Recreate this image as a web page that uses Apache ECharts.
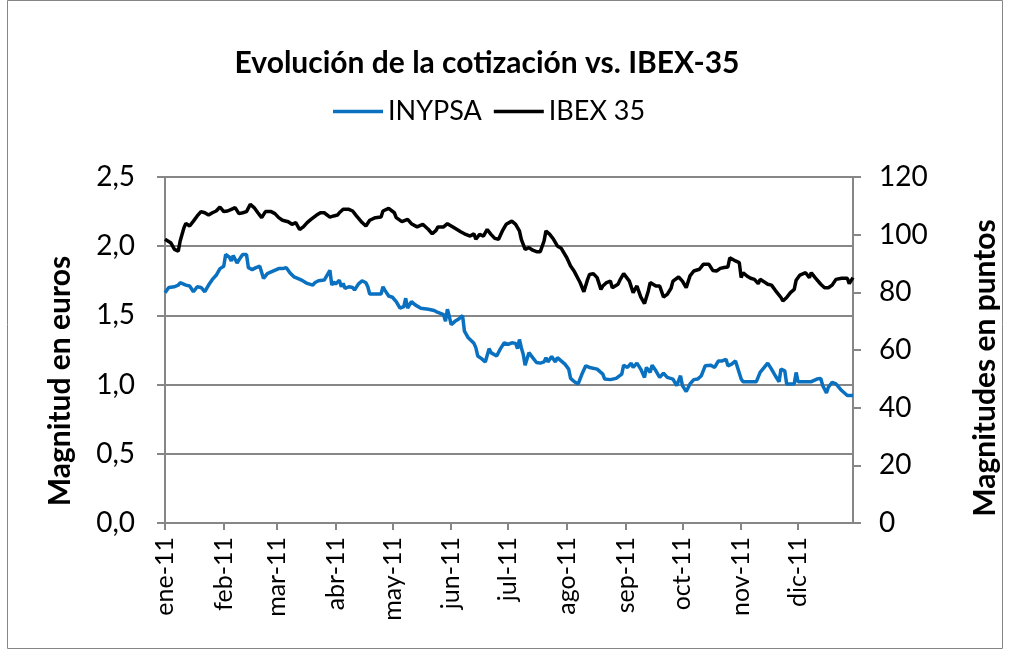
<!DOCTYPE html>
<html><head><meta charset="utf-8">
<script src="https://cdn.jsdelivr.net/npm/echarts@6/dist/echarts.min.js"></script>
<style>html,body{margin:0;padding:0;background:#fff}#c{width:1010px;height:657px}</style>
</head><body><div id="c"></div>
<script>
const chartTitle = 'Evolución de la cotización vs. IBEX-35';
const seriesNames = ['INYPSA', 'IBEX 35'];
const monthNames = ['ene','feb','mar','abr','may','jun','jul','ago','sep','oct','nov','dic'];
const leftAxisTitle = 'Magnitud en euros';
const rightAxisTitle = 'Magnitudes en puntos';

// day index counted from 1 Jan 2011
const inypsaDays = [0,2,5,7,8,11,13,15,17,19,21,23,25,27,29,31,32,34,35,36,38,40,41,43,44,46,48,50,52,54,56,57,
 60,62,64,66,68,70,72,73,75,78,79,81,84,85,87,88,89,90,92,93,94,95,97,99,100,102,104,106,107,108,111,114,115,116,118,
 120,122,124,126,127,128,130,132,135,136,139,142,144,147,148,149,150,151,153,155,157,158,160,163,164,165,167,169,171,172,175,177,179,
 181,183,185,186,187,188,189,190,192,194,196,198,200,201,202,204,206,207,209,211,213,214,216,218,220,222,224,225,228,231,232,235,238,239,241,
 242,244,246,247,249,250,251,253,254,256,257,259,261,263,265,268,269,270,272,273,275,277,279,281,283,285,288,290,292,294,296,297,299,301,
 302,304,305,309,312,314,318,320,322,324,325,327,328,330,332,333,334,338,341,344,346,347,349,350,352,354,357,360,363];
const inypsaVals = [1.664,1.702,1.707,1.719,1.736,1.719,1.712,1.671,1.707,1.702,1.671,1.719,1.760,1.790,1.838,1.855,1.940,1.921,1.893,1.933,1.879,1.921,1.940,1.940,1.845,1.831,1.845,1.855,1.767,1.802,1.814,1.826,
 1.838,1.838,1.845,1.807,1.779,1.767,1.755,1.767,1.731,1.719,1.736,1.750,1.755,1.755,1.826,1.719,1.743,1.726,1.755,1.707,1.731,1.695,1.707,1.702,1.683,1.726,1.750,1.736,1.707,1.655,1.655,1.655,1.707,1.683,1.640,
 1.631,1.600,1.552,1.564,1.624,1.552,1.600,1.576,1.552,1.540,1.545,1.536,1.521,1.505,1.457,1.545,1.493,1.433,1.457,1.474,1.498,1.386,1.338,1.298,1.267,1.207,1.188,1.164,1.260,1.231,1.207,1.260,1.302,
 1.290,1.302,1.298,1.260,1.326,1.267,1.219,1.140,1.231,1.195,1.160,1.155,1.164,1.195,1.164,1.202,1.164,1.195,1.171,1.148,1.112,1.045,1.021,1.005,1.076,1.136,1.124,1.112,1.112,1.076,1.040,1.036,1.045,1.052,1.076,
 1.140,1.124,1.155,1.124,1.155,1.160,1.112,1.052,1.124,1.088,1.140,1.100,1.052,1.083,1.052,1.040,1.029,0.993,1.064,0.993,0.950,1.005,1.036,1.040,1.064,1.136,1.140,1.124,1.171,1.171,1.183,1.136,1.148,1.171,
 1.183,1.040,1.021,1.021,1.021,1.088,1.155,1.112,1.064,1.021,1.112,1.100,1.005,1.005,1.005,1.088,1.021,1.021,1.021,1.040,1.045,0.993,0.940,0.981,1.017,1.005,0.957,0.921,0.921];

const ibexDays = [0,3,5,7,8,10,11,13,15,17,19,21,23,25,27,29,31,33,35,37,39,41,43,45,47,49,51,53,56,
 58,60,62,65,67,69,71,73,75,77,80,82,84,87,89,91,92,94,97,99,101,104,106,108,111,114,115,118,
 121,122,125,128,130,133,136,137,139,141,143,144,147,149,151,153,156,158,161,163,164,166,168,170,172,174,176,178,180,
 181,183,185,187,188,190,192,194,196,198,200,201,203,205,207,209,210,212,214,216,217,219,221,223,224,226,228,230,231,233,235,236,239,240,
 242,245,247,249,251,253,255,256,259,261,263,265,267,268,271,273,275,277,279,282,284,287,289,291,293,295,297,298,301,
 303,304,305,307,309,311,312,313,314,316,318,320,322,325,326,328,330,332,333,335,338,340,341,343,346,348,350,352,354,355,357,360,361,363];
const ibexVals = [98.4,97.2,94.9,94.3,97.8,102.4,103.9,103.0,104.7,106.5,108.0,107.6,106.8,107.6,108.2,109.6,108.0,108.2,108.8,109.4,107.3,107.6,108.0,110.5,109.4,107.6,105.9,108.0,108.0,
 107.3,105.9,105.0,104.5,103.6,104.2,101.8,102.7,104.2,105.3,106.8,107.6,107.6,106.1,106.5,106.8,107.6,108.8,108.8,108.2,106.5,104.2,103.0,105.0,105.9,106.1,108.2,109.1,
 107.6,105.9,104.5,105.3,103.8,102.7,103.6,103.0,101.8,100.3,101.5,102.7,102.7,103.8,103.0,102.2,101.0,100.3,99.5,100.3,98.4,100.1,99.5,101.8,100.1,98.7,98.4,101.3,103.6,
 104.2,104.7,103.6,101.3,98.4,94.9,95.5,94.6,94.1,94.1,97.8,101.3,100.1,98.4,96.1,95.3,94.9,92.0,89.1,87.2,87.2,83.4,80.2,84.5,86.2,86.5,85.1,81.0,82.2,83.4,83.9,81.6,82.8,84.2,
 86.5,83.9,79.9,82.2,78.4,76.1,80.5,83.4,82.2,82.2,78.4,79.3,81.4,83.9,85.3,83.9,81.6,85.7,87.4,88.0,89.7,89.7,87.6,87.4,88.3,88.6,88.8,92.0,90.9,
 90.3,85.1,86.8,85.7,84.9,84.5,85.1,83.0,84.5,83.7,82.8,82.5,80.7,78.2,77.0,78.2,79.9,81.0,84.2,86.0,86.8,85.1,86.8,85.1,82.8,81.6,81.6,82.5,84.5,84.9,84.9,84.9,83.0,85.1];

// calendar days shown on the date axis (1 Jan 2011 .. 30 Dec 2011)
const categories = [];
for (let i = 0; i < 364; i++) {
  const d = new Date(Date.UTC(2011, 0, 1 + i));
  categories.push(d.toISOString().slice(0, 10));
}
const isMonthStart = (idx, val) => val.slice(8, 10) === '01';
const monthLabel = v => monthNames[parseInt(v.slice(5, 7), 10) - 1] + '-' + v.slice(2, 4);

const FONT = 'Lato';
const GRAY = '#868686';
const chart = echarts.init(document.getElementById('c'), null, {renderer: 'canvas'});
chart.setOption({
  animation: false,
  backgroundColor: '#fff',
  title: {
    text: chartTitle, left: 482, textAlign: 'center', top: 43,
    textStyle: {fontFamily: FONT, fontWeight: 'bold', fontSize: 30, color: '#000'}
  },
  legend: {
    data: seriesNames, left: 328, top: 93, icon: 'rect', itemWidth: 50, itemHeight: 3.5, itemGap: 12,
    textStyle: {fontFamily: FONT, fontSize: 27, color: '#000'}
  },
  grid: {left: 165, right: 157, top: 177, bottom: 134},
  xAxis: {
    type: 'category', data: categories, boundaryGap: false,
    axisLine: {lineStyle: {color: GRAY, width: 2}},
    axisTick: {show: true, interval: isMonthStart, length: 7, lineStyle: {color: GRAY, width: 2}},
    axisLabel: {interval: isMonthStart, rotate: 90, formatter: monthLabel, margin: 14,
      fontFamily: FONT, fontSize: 25, color: '#000'},
    splitLine: {show: false}
  },
  yAxis: [{
    type: 'value', min: 0, max: 2.5, interval: 0.5, position: 'left',
    axisLine: {show: true, lineStyle: {color: GRAY, width: 2}},
    axisTick: {show: true, length: 8, lineStyle: {color: GRAY, width: 2}},
    axisLabel: {formatter: v => v.toFixed(1).replace('.', ','), margin: 30,
      fontFamily: FONT, fontSize: 28, color: '#000'},
    splitLine: {show: true, lineStyle: {color: GRAY, width: 2}}
  }, {
    type: 'value', min: 0, max: 120, interval: 20, position: 'right',
    axisLine: {show: true, lineStyle: {color: GRAY, width: 2}},
    axisTick: {show: true, length: 8, lineStyle: {color: GRAY, width: 2}},
    axisLabel: {margin: 26, fontFamily: FONT, fontSize: 28, color: '#000'},
    splitLine: {show: false}
  }],
  graphic: [
    {type: 'rect', shape: {x: 7.5, y: 0.5, width: 995, height: 648}, style: {fill: 'none', stroke: GRAY, lineWidth: 1}, silent: true, z: -1},
    {type: 'text', x: 60, y: 381, rotation: Math.PI / 2,
      style: {text: leftAxisTitle, font: 'bold 30px Lato', fill: '#000', align: 'center', verticalAlign: 'middle'}},
    {type: 'text', x: 985, y: 368, rotation: Math.PI / 2,
      style: {text: rightAxisTitle, font: 'bold 30px Lato', fill: '#000', align: 'center', verticalAlign: 'middle'}}
  ],
  series: [{
    name: seriesNames[0], type: 'line', yAxisIndex: 0, symbol: 'none',
    data: inypsaDays.map((d, i) => [d, inypsaVals[i]]),
    lineStyle: {color: '#0a70c0', width: 3.5}, itemStyle: {color: '#0a70c0'}, z: 3
  }, {
    name: seriesNames[1], type: 'line', yAxisIndex: 1, symbol: 'none',
    data: ibexDays.map((d, i) => [d, ibexVals[i]]),
    lineStyle: {color: '#000', width: 3.5}, itemStyle: {color: '#000'}, z: 2
  }]
});
</script>
</body></html>
